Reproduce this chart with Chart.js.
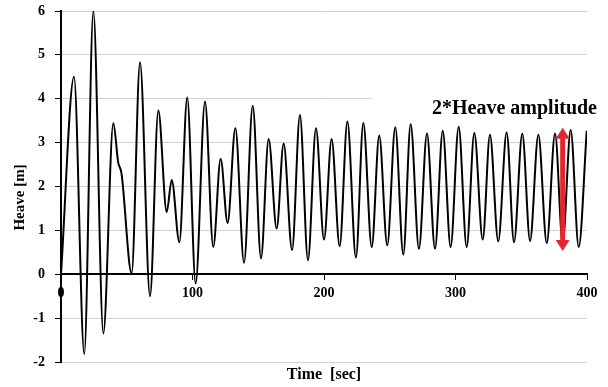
<!DOCTYPE html>
<html>
<head>
<meta charset="utf-8">
<script src="https://cdn.jsdelivr.net/npm/chart.js@4.4.1/dist/chart.umd.min.js"></script>
<style>
  html, body { margin: 0; padding: 0; background: #fff; }
  #wrap { width: 608px; height: 387px; }
</style>
</head>
<body>
<div id="wrap"><canvas id="heaveChart"></canvas></div>
<script>
// Heave time history - peaks and troughs
const timeSec = [
    0, 9.9, 17.7, 24.6, 32.2, 39.8, 43.5, 46, 53.7, 60.1, 67.7, 74, 80.4, 84.2, 90, 96, 102.4,
    109.5, 115.8, 121.4, 126.7, 132.6, 139.2, 145.8, 152.1, 157.9, 164, 169.3, 175.7, 181.7,
    187.8, 193.9, 200, 205.8, 211.9, 217.8, 224.3, 229.9, 236.3, 242, 248.1, 254.2, 260.3,
    265.9, 272.2, 278.3, 284.4, 290.3, 296.3, 302.4, 308.5, 314.3, 320.7, 326.2, 332.5,
    338.9, 344.5, 350.8, 356.7, 363, 369.4, 375.7, 381.5, 387.6, 393.7, 399.8
];
const heaveM = [
    0, 4.5, -1.82, 6.0, -1.35, 3.44, 2.55, 2.3, 0.02, 4.83, -0.5, 3.73, 1.42, 2.15, 0.73, 4.03, -0.21,
    3.94, 0.62, 2.63, 1.17, 3.33, 0.26, 3.84, 0.36, 3.08, 1.04, 2.98, 0.55, 3.63,
    0.32, 3.33, 0.79, 3.08, 0.64, 3.48, 0.38, 3.45, 0.62, 3.16, 0.66, 3.35, 0.45,
    3.42, 0.58, 3.21, 0.58, 3.27, 0.62, 3.36, 0.62, 3.22, 0.79, 3.18, 0.75,
    3.23, 0.73, 3.2, 0.76, 3.18, 0.71, 3.21, 0.72, 3.29, 0.62, 3.27
];
const xTicks = [0, 100, 200, 300, 400];
const yTicks = [-2, -1, 0, 1, 2, 3, 4, 5, 6];

// 2*amplitude marker
const arrowTime = 381.5;
const arrowTop = 3.34;
const arrowBottom = 0.53;
const annotationText = '2*Heave amplitude';

const xTitle = 'Time  [sec]';
const yTitle = 'Heave [m]';

const serif = "'Liberation Serif', 'Times New Roman', serif";

const annotationPlugin = {
    id: 'annotation',
    beforeDatasetsDraw(chart) {
        const {ctx, chartArea, scales: {x, y}} = chart;
        // white text box that hides the grid line behind the label
        ctx.save();
        ctx.fillStyle = '#fff';
        const boxLeft = x.getPixelForValue(236);
        const boxTop = y.getPixelForValue(4.15);
        const boxBottom = y.getPixelForValue(3.62);
        ctx.fillRect(boxLeft, boxTop, chart.width - boxLeft, boxBottom - boxTop);
        ctx.fillStyle = '#000';
        ctx.font = 'bold 20px ' + serif;
        ctx.textAlign = 'right';
        ctx.textBaseline = 'alphabetic';
        ctx.fillText(annotationText, chartArea.right + 10, y.getPixelForValue(3.65));

        // axis titles
        ctx.font = 'bold 16px ' + serif;
        ctx.textAlign = 'center';
        ctx.textBaseline = 'middle';
        ctx.fillText(xTitle, (chartArea.left + chartArea.right) / 2, chart.height - 12);

        ctx.font = 'bold 15px ' + serif;
        ctx.translate(20, y.getPixelForValue(1.75));
        ctx.rotate(-Math.PI / 2);
        ctx.fillText(yTitle, 0, 0);
        ctx.restore();
    },
    afterDatasetsDraw(chart) {
        const {ctx, scales: {x, y}} = chart;
        const ax = x.getPixelForValue(arrowTime);
        const yTop = y.getPixelForValue(arrowTop);
        const yBot = y.getPixelForValue(arrowBottom);
        const headLen = 11, headHalf = 7;
        ctx.save();
        ctx.strokeStyle = '#e3262d';
        ctx.fillStyle = '#e3262d';
        ctx.lineWidth = 5;
        ctx.beginPath();
        ctx.moveTo(ax, yTop + headLen - 1);
        ctx.lineTo(ax, yBot - headLen + 1);
        ctx.stroke();
        ctx.beginPath();
        ctx.moveTo(ax, yTop);
        ctx.lineTo(ax - headHalf, yTop + headLen);
        ctx.lineTo(ax + headHalf, yTop + headLen);
        ctx.closePath();
        ctx.fill();
        ctx.beginPath();
        ctx.moveTo(ax, yBot);
        ctx.lineTo(ax - headHalf, yBot - headLen);
        ctx.lineTo(ax + headHalf, yBot - headLen);
        ctx.closePath();
        ctx.fill();
        ctx.restore();
    }
};

const ctx = document.getElementById('heaveChart').getContext('2d');
new Chart(ctx, {
    type: 'line',
    data: {
        datasets: [{
            label: 'Heave',
            data: timeSec.map((t, i) => ({x: t, y: heaveM[i]})),
            borderColor: '#000',
            borderWidth: 2,
            pointRadius: 0,
            fill: false,
            cubicInterpolationMode: 'monotone'
        }]
    },
    options: {
        responsive: true,
        maintainAspectRatio: false,
        animation: false,
        layout: {
            padding: {left: 0, right: 21, top: 11, bottom: 25}
        },
        plugins: {
            legend: {display: false},
            tooltip: {enabled: false}
        },
        scales: {
            x: {
                type: 'linear',
                position: {y: 0},
                min: 0,
                max: 400,
                afterBuildTicks: scale => { scale.ticks = xTicks.map(v => ({value: v})); },
                afterFit: scale => { scale.height = 0; },
                grid: {
                    drawOnChartArea: false,
                    drawTicks: true,
                    tickLength: 5,
                    tickColor: '#000'
                },
                border: {color: '#000', width: 2},
                ticks: {
                    color: '#000',
                    padding: 6,
                    maxRotation: 0,
                    font: {family: serif, size: 14, weight: 'bold'}
                }
            },
            y: {
                type: 'linear',
                position: 'left',
                min: -2,
                max: 6,
                afterBuildTicks: scale => { scale.ticks = yTicks.map(v => ({value: v})); },
                afterFit: scale => {
                    scale.width = 61;
                    scale.paddingTop = 0;
                    scale.paddingBottom = 0;
                },
                grid: {
                    color: c => (c.tick && c.tick.value === 0) ? 'rgba(0,0,0,0)' : '#d2d2d2',
                    lineWidth: 1,
                    tickLength: 6,
                    tickColor: '#000'
                },
                border: {color: '#000', width: 2},
                ticks: {
                    color: '#000',
                    padding: 10,
                    font: {family: serif, size: 14, weight: 'bold'}
                }
            }
        }
    },
    plugins: [annotationPlugin]
});
</script>
</body>
</html>
